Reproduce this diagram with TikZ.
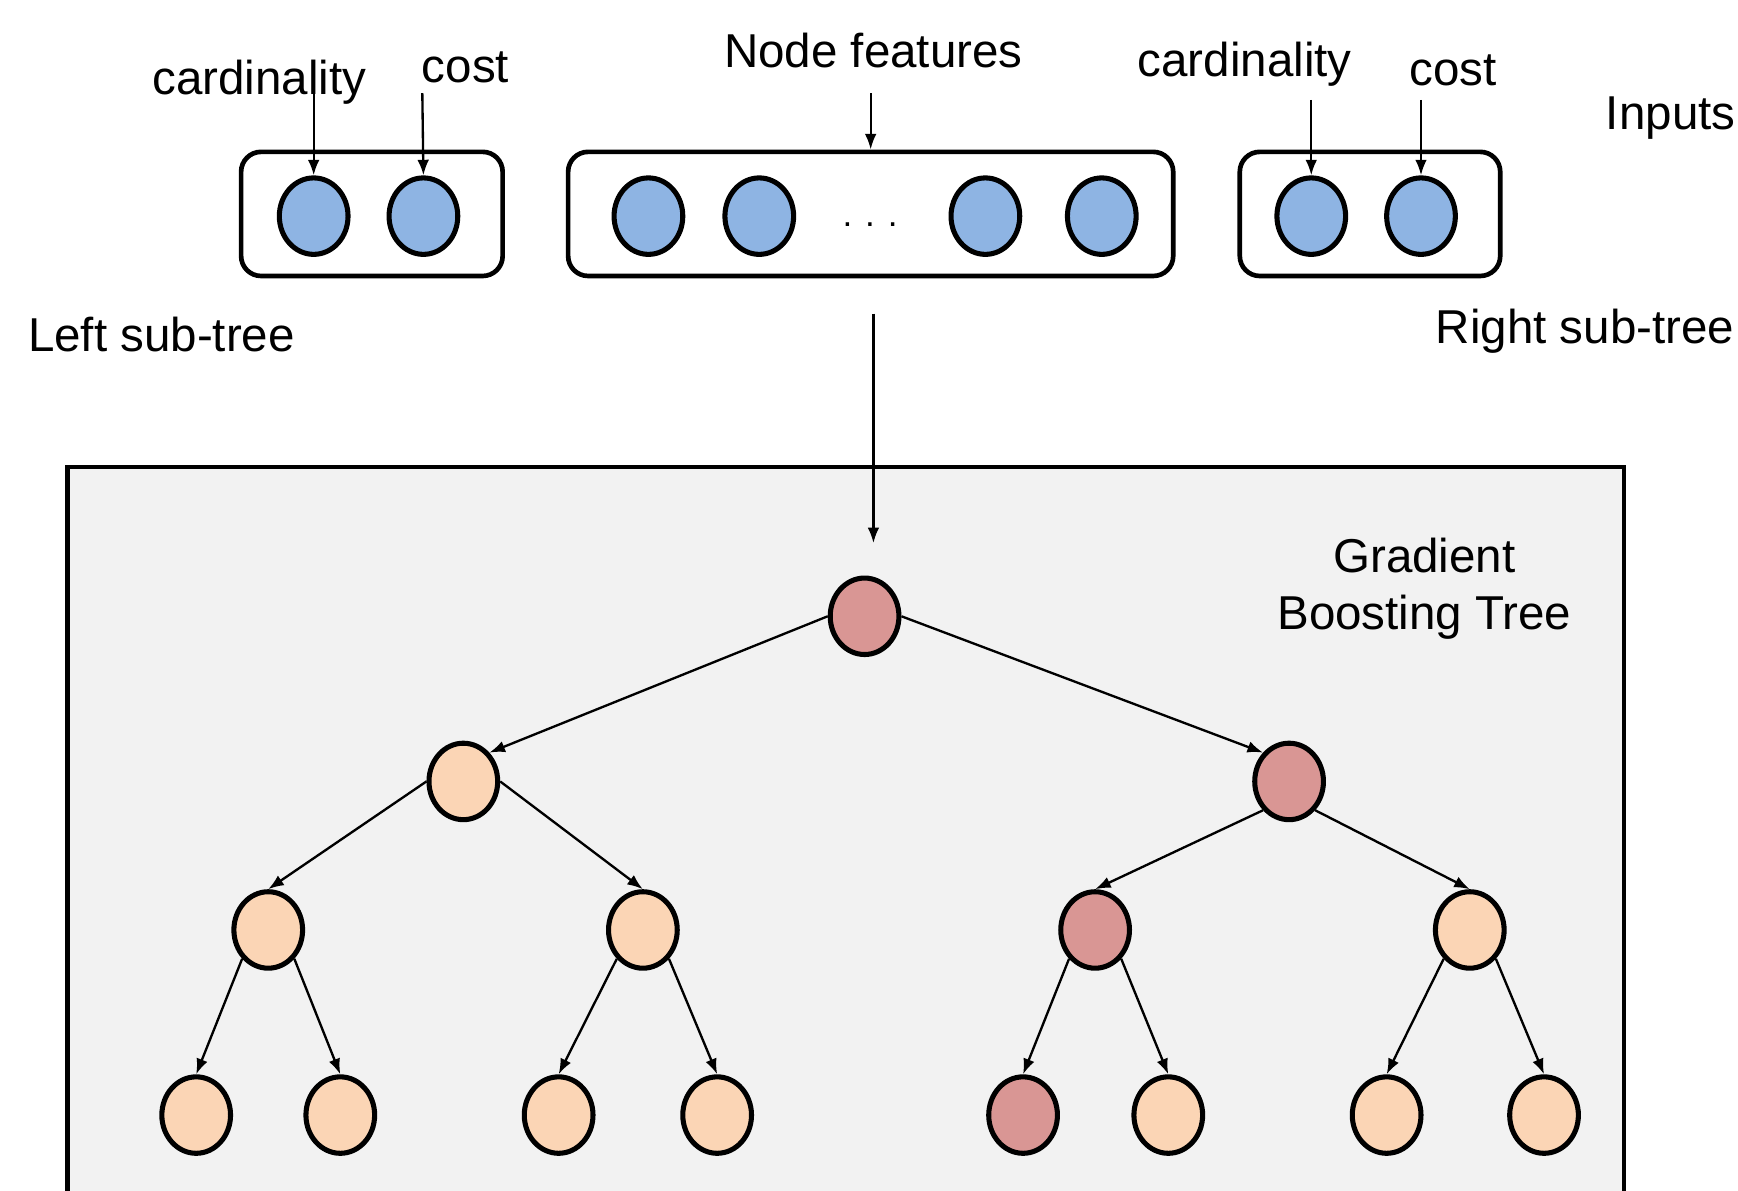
\documentclass[tikz,border=0pt]{standalone}
\usepackage{fontspec}
\setmainfont{Liberation Sans}
\usepackage{xcolor}
\definecolor{featblue}{RGB}{142,180,227}
\definecolor{leafpeach}{RGB}{251,213,181}
\definecolor{pathred}{RGB}{217,150,148}
\definecolor{panelgray}{RGB}{242,242,242}
\usepackage{tikz}
\usetikzlibrary{shapes.geometric,arrows.meta}

\begin{document}
\begin{tikzpicture}[x=0.02cm, y=-0.02cm,
  every node/.style={font=\fontsize{24.4}{29}\selectfont},
  inbox/.style={draw, line width=2.4pt, rounded corners=0.36cm, minimum height=2.24cm},
  feat/.style={ellipse, draw, line width=2.6pt, fill=featblue, minimum width=1.24cm, minimum height=1.38cm, inner sep=0pt},
  tnode/.style={ellipse, draw, line width=2.6pt, fill=leafpeach, minimum width=1.24cm, minimum height=1.38cm, inner sep=0pt},
  hot/.style={fill=pathred},
  arr/.style={-{Latex[length=8pt,width=6pt]}, line width=1.2pt}]
  \useasboundingbox (0,0) rectangle (1568,1074);

  % gradient boosting panel (runs off the bottom)
  \draw[line width=2.2pt, fill=panelgray] (61,1120) -- (61,421) -- (1465,421) -- (1465,1120);

  % input groups
  \node[inbox, minimum width=4.72cm] (leftbox) at (335.5,193) {};
  \node[inbox, minimum width=10.92cm] (featbox) at (785.5,193) {};
  \node[inbox, minimum width=4.70cm] (rightbox) at (1236,193) {};

  \node[feat] (inL1) at (283,195) {};
  \node[feat] (inL2) at (382,195) {};
  \node[feat] (inF1) at (585,195) {};
  \node[feat] (inF2) at (685,195) {};
  \node[font=\fontsize{18}{18}\selectfont] (dots) at (785,203) {. . .};
  \node[feat] (inF3) at (889,195) {};
  \node[feat] (inF4) at (994,195) {};
  \node[feat] (inR1) at (1183,195) {};
  \node[feat] (inR2) at (1282,195) {};

  % labels
  \node[anchor=base] (cardL) at (234,85) {cardinality};
  \node[anchor=base] (costL) at (420,74) {cost};
  \node[anchor=base] (featlabel) at (788,61) {Node features};
  \node[anchor=base] (cardR) at (1123,69) {cardinality};
  \node[anchor=base] (costR) at (1311,77) {cost};
  \node[anchor=base east, inner sep=0pt] (inputs) at (1566,117) {Inputs};
  \node[anchor=base west, inner sep=0pt] (lefttree) at (25,317) {Left sub-tree};
  \node[anchor=base east, inner sep=0pt] (righttree) at (1565,310) {Right sub-tree};
  \node[align=center] (gbt) at (1285,531) {Gradient\\Boosting Tree};

  \coordinate (cardLtail) at (283,85);
  \coordinate (costLtail) at (381,84);
  \coordinate (feattail) at (785.5,84);
  \coordinate (cardRtail) at (1183,90);
  \coordinate (costRtail) at (1282,90);
  \draw[arr] (cardLtail) -- (inL1.north);
  \draw[arr] (costLtail) -- (inL2.north);
  \draw[arr] (feattail) -- (featbox.north);
  \draw[arr] (cardRtail) -- (inR1.north);
  \draw[arr] (costRtail) -- (inR2.north);

  % tree
  \node[tnode, hot] (root) at (780,556) {};
  \node[tnode] (t1a) at (418,705) {};
  \node[tnode, hot] (t1b) at (1163,705) {};
  \node[tnode] (t2a) at (242,839) {};
  \node[tnode] (t2b) at (580,839) {};
  \node[tnode, hot] (t2c) at (988,839) {};
  \node[tnode] (t2d) at (1326,839) {};
  \node[tnode] (t3a) at (177,1006) {};
  \node[tnode] (t3b) at (307,1006) {};
  \node[tnode] (t3c) at (504,1006) {};
  \node[tnode] (t3d) at (647,1006) {};
  \node[tnode, hot] (t3e) at (923,1006) {};
  \node[tnode] (t3f) at (1054,1006) {};
  \node[tnode] (t3g) at (1251,1006) {};
  \node[tnode] (t3h) at (1393,1006) {};

  \coordinate (drop) at (788,283);
  \coordinate (land) at (788,490);
  \draw[arr] (drop) -- (land);

  \draw[arr] (root.west) -- (t1a.north east);
  \draw[arr] (root.east) -- (t1b.north west);
  \draw[arr] (t1a.west) -- (t2a.north);
  \draw[arr] (t1a.east) -- (t2b.north);
  \draw[arr] (t1b.south west) -- (t2c.north);
  \draw[arr] (t1b.south east) -- (t2d.north);
  \draw[arr] (t2a.south west) -- (t3a.north);
  \draw[arr] (t2a.south east) -- (t3b.north);
  \draw[arr] (t2b.south west) -- (t3c.north);
  \draw[arr] (t2b.south east) -- (t3d.north);
  \draw[arr] (t2c.south west) -- (t3e.north);
  \draw[arr] (t2c.south east) -- (t3f.north);
  \draw[arr] (t2d.south west) -- (t3g.north);
  \draw[arr] (t2d.south east) -- (t3h.north);
\end{tikzpicture}
\end{document}
